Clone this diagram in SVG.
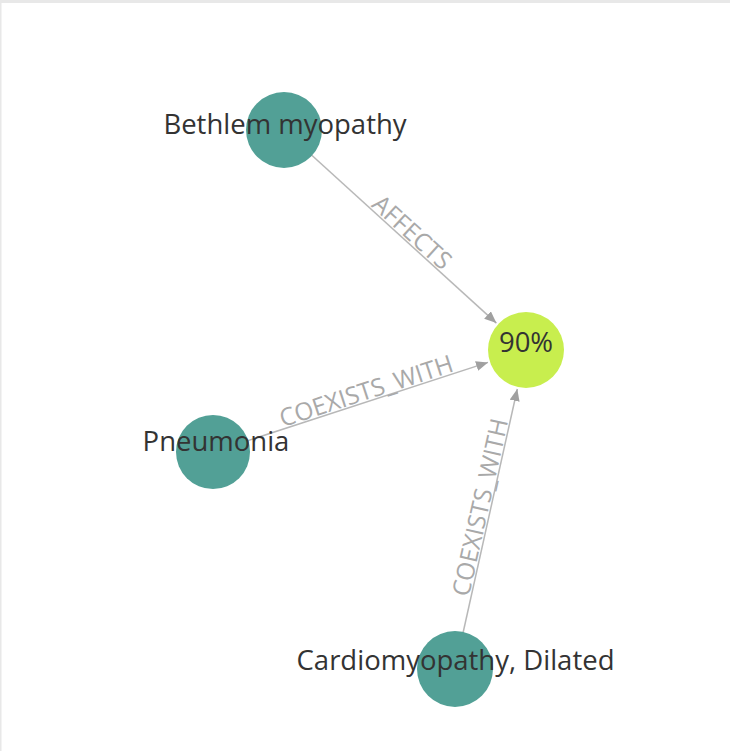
<svg xmlns="http://www.w3.org/2000/svg" width="730" height="751" viewBox="0 0 730 751">
  <style>
    .frame { fill: #e8e8e8; }
    .edge { stroke: #b8b8b8; stroke-width: 1.5; fill: none; }
    .edge-label { font-family: "Open Sans", "Noto Sans", sans-serif; font-size: 24.5px; fill: #a9a9a9; text-anchor: middle; }
    .node-label { font-family: "Open Sans", "Noto Sans", sans-serif; font-size: 27.5px; fill: #333333; text-anchor: middle; }
    .disease { fill: #52a096; }
    .value { fill: #c8ee4e; }
  </style>
  <defs>
    <marker id="arrow" viewBox="0 -5 12 10" refX="12" refY="0" markerWidth="12" markerHeight="10" markerUnits="userSpaceOnUse" orient="auto">
      <path d="M0,-5 L12,0 L0,5 z" fill="#a0a0a0"/>
    </marker>
  </defs>

  <rect width="730" height="751" fill="#ffffff"/>
  <rect class="frame" x="0" y="0" width="730" height="3"/>
  <rect class="frame" x="0" y="0" width="1.5" height="751"/>

  <g id="edges">
    <line class="edge" x1="284" y1="130" x2="496.4" y2="323.1" marker-end="url(#arrow)"/>
    <text class="edge-label" transform="translate(405 240) rotate(42.27)" y="-2">AFFECTS</text>

    <line class="edge" x1="213" y1="452" x2="488" y2="362.4" marker-end="url(#arrow)"/>
    <text class="edge-label" transform="translate(369.5 401) rotate(-18.05)" y="-2">COEXISTS_WITH</text>

    <line class="edge" x1="455" y1="669" x2="517.3" y2="389" marker-end="url(#arrow)"/>
    <text class="edge-label" transform="translate(490.5 509.5) rotate(-77.45)" y="-2">COEXISTS_WITH</text>
  </g>

  <g id="node-bethlem">
    <circle class="disease" cx="284" cy="130" r="38"/>
    <text class="node-label" x="285" y="134">Bethlem myopathy</text>
  </g>

  <g id="node-90">
    <circle class="value" cx="526" cy="350" r="38"/>
    <text class="node-label" x="526" y="352">90%</text>
  </g>

  <g id="node-pneumonia">
    <circle class="disease" cx="213" cy="452" r="37"/>
    <text class="node-label" x="216" y="451">Pneumonia</text>
  </g>

  <g id="node-cardiomyopathy">
    <circle class="disease" cx="455" cy="669" r="38"/>
    <text class="node-label" x="455.5" y="670">Cardiomyopathy, Dilated</text>
  </g>
</svg>
